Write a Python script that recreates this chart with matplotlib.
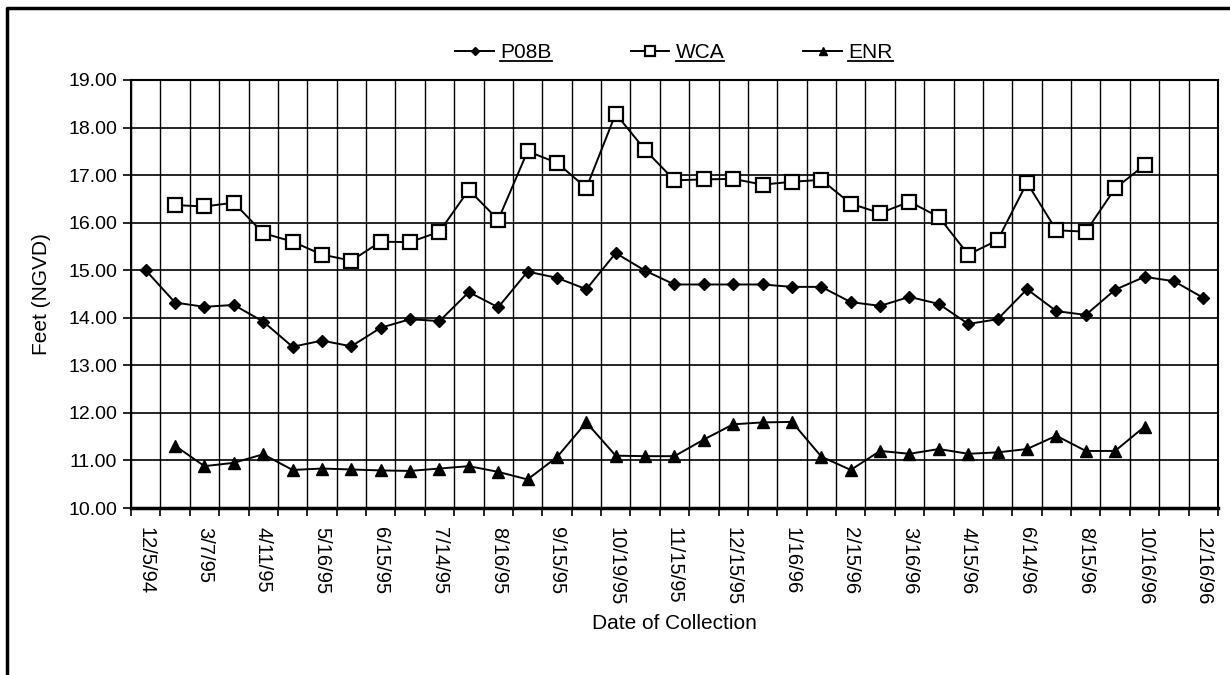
import numpy as np
import matplotlib
matplotlib.use("Agg")
import matplotlib.pyplot as plt
from matplotlib.lines import Line2D

plt.rcParams['font.family'] = ['Liberation Sans', 'DejaVu Sans']

# ---------------- data ----------------
# every collection slot (only every other one carries a label)
tick_labels = ['12/5/94', '3/7/95', '4/11/95', '5/16/95', '6/15/95', '7/14/95',
               '8/16/95', '9/15/95', '10/19/95', '11/15/95', '12/15/95', '1/16/96',
               '2/15/96', '3/16/96', '4/15/96', '6/14/96', '8/15/96', '10/16/96',
               '12/16/96']
n_slots = 37

p08b = [15.00, 14.32, 14.23, 14.27, 13.92, 13.39, 13.52, 13.40, 13.79, 13.97,
        13.93, 14.54, 14.22, 14.97, 14.84, 14.60, 15.36, 14.99, 14.70, 14.70,
        14.70, 14.70, 14.65, 14.65, 14.33, 14.25, 14.44, 14.29, 13.87, 13.97,
        14.60, 14.14, 14.06, 14.59, 14.86, 14.77, 14.42]

wca = [None, 16.37, 16.34, 16.42, 15.78, 15.60, 15.33, 15.20, 15.60, 15.59,
       15.81, 16.69, 16.06, 17.50, 17.26, 16.73, 18.29, 17.53, 16.89, 16.91,
       16.92, 16.80, 16.86, 16.90, 16.40, 16.20, 16.44, 16.12, 15.33, 15.63,
       16.84, 15.84, 15.81, 16.72, 17.21]

enr = [None, 11.31, 10.88, 10.95, 11.13, 10.80, 10.83, 10.81, 10.79, 10.78,
       10.83, 10.88, 10.76, 10.60, 11.07, 11.80, 11.10, 11.09, 11.09, 11.44,
       11.76, 11.80, 11.81, 11.08, 10.80, 11.20, 11.14, 11.24, 11.14, 11.17,
       11.24, 11.52, 11.20, 11.20, 11.71]


def as_arr(vals):
    return np.array([np.nan if v is None else v for v in vals], dtype=float)


fig = plt.figure(figsize=(12.3, 6.75), dpi=100)
ax = fig.add_axes([0.1065, 0.2474, 0.8837, 0.6341])

x_p = np.arange(len(p08b))
x_w = np.arange(len(wca))
x_e = np.arange(len(enr))

ax.plot(x_p, as_arr(p08b), color='black', lw=1.4, marker='D', ms=6,
        mfc='black', mec='black', label='P08B', zorder=5)
ax.plot(x_w, as_arr(wca), color='black', lw=1.4, marker='s', ms=10,
        mfc='white', mec='black', mew=1.6, label='WCA', zorder=5)
ax.plot(x_e, as_arr(enr), color='black', lw=1.4, marker='^', ms=9,
        mfc='black', mec='black', label='ENR', zorder=5)

# axes
ax.set_xlim(-0.5, n_slots - 0.5)
ax.set_ylim(10, 19)
ax.set_yticks(np.arange(10, 19.5, 1))
ax.set_yticklabels(['%.2f' % v for v in np.arange(10, 19.5, 1)])
ax.set_xticks(np.arange(0, n_slots, 2))
ax.set_xticklabels(tick_labels, rotation=-90, va='top', ha='center')
ax.set_xticks(np.arange(-0.5, n_slots, 1), minor=True)

ax.tick_params(axis='x', which='major', length=0, pad=14, labelsize=14.5)
ax.tick_params(axis='x', which='minor', length=6, width=1.2, direction='out')
ax.tick_params(axis='y', which='major', length=6, width=1.2, labelsize=14, pad=4)

ax.grid(True, axis='y', which='major', color='black', lw=1.2)
ax.grid(True, axis='x', which='minor', color='black', lw=1.0)
ax.set_axisbelow(True)

for side in ['top', 'right', 'left']:
    ax.spines[side].set_linewidth(1.5)
ax.spines['bottom'].set_linewidth(2.5)

ax.set_ylabel('Feet (NGVD)', fontsize=15, labelpad=12)
ax.set_xlabel('Date of Collection', fontsize=15, labelpad=6)

leg = fig.legend(loc='center', bbox_to_anchor=(0.548, 0.922), ncol=3,
                 frameon=False, fontsize=15, handlelength=1.85,
                 columnspacing=3.8, handletextpad=0.3, markerscale=0.7)

# underline the legend labels as in the original
fig.canvas.draw()
inv = fig.transFigure.inverted()
for t in leg.get_texts():
    bb = t.get_window_extent()
    (x0, y0), (x1, _) = inv.transform([(bb.x0, bb.y0), (bb.x1, bb.y1)])
    fig.add_artist(Line2D([x0, x1], [y0 + 0.002, y0 + 0.002], color='black',
                          lw=1.3, transform=fig.transFigure))

# outer frame (left and top visible in the scan)
fig.add_artist(Line2D([7 / 1230, 7 / 1230, 1], [0, 1 - 8 / 675, 1 - 8 / 675],
                      color='black', lw=2.5, transform=fig.transFigure))

fig.savefig('out.png', dpi=100)
